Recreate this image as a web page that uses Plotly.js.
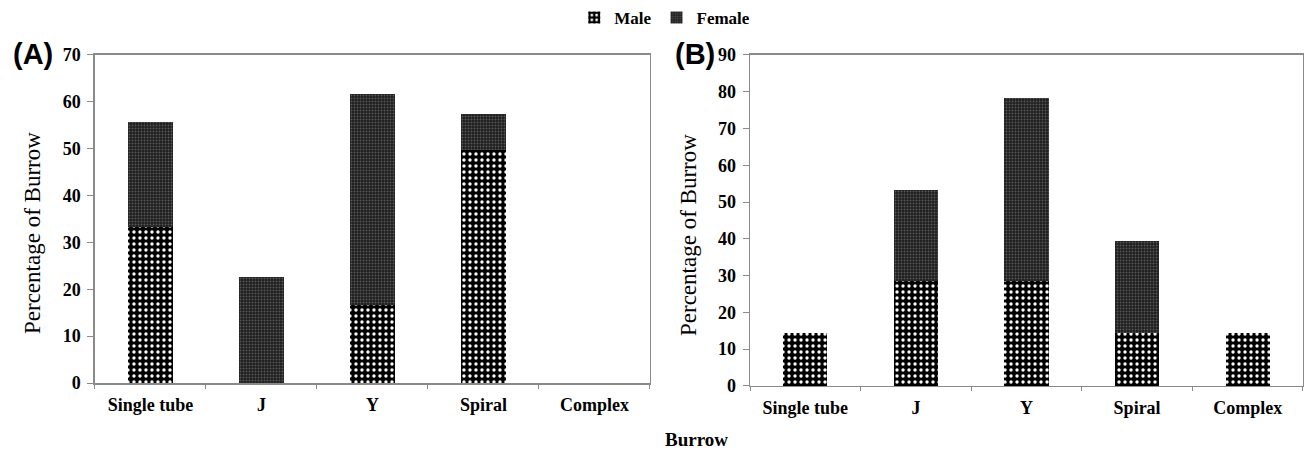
<!DOCTYPE html>
<html>
<head>
<meta charset="utf-8">
<script src="https://cdn.plot.ly/plotly-3.0.1.min.js"></script>
<style>html,body{margin:0;padding:0;background:#fff}#chart{width:1306px;height:453px}</style>
</head>
<body>
<div id="chart"></div>
<script>
// Data
var categories = ["Single tube", "J", "Y", "Spiral", "Complex"];
var maleA   = [33.2, 0, 16.6, 49.8, 0];
var femaleA = [22.5, 22.7, 45.0, 7.7, 0];
var maleB   = [14.3, 28.6, 28.6, 14.3, 14.3];
var femaleB = [0, 24.8, 49.6, 25.1, 0];
var yTicksA = [0, 10, 20, 30, 40, 50, 60, 70];
var yTicksB = [0, 10, 20, 30, 40, 50, 60, 70, 80, 90];

var serif = "Liberation Serif";
var malePattern = {shape: ".", bgcolor: "#000000", fgcolor: "#ffffff", size: 6, solidity: 0.25};
var femalePattern = {shape: ".", bgcolor: "#1e1e1e", fgcolor: "#5a5a5a", size: 3, solidity: 0.3};

var traces = [
  {type: "bar", name: "Male", x: categories, y: maleA, xaxis: "x", yaxis: "y",
   marker: {color: "#000", pattern: malePattern, line: {width: 0}}, width: 0.4, legendgroup: "m"},
  {type: "bar", name: "Female", x: categories, y: femaleA, xaxis: "x", yaxis: "y",
   marker: {color: "#1e1e1e", pattern: femalePattern, line: {width: 0}}, width: 0.4, legendgroup: "f"},
  {type: "bar", name: "Male", x: categories, y: maleB, xaxis: "x2", yaxis: "y2",
   marker: {color: "#000", pattern: malePattern, line: {width: 0}}, width: 0.4, legendgroup: "m", showlegend: false},
  {type: "bar", name: "Female", x: categories, y: femaleB, xaxis: "x2", yaxis: "y2",
   marker: {color: "#1e1e1e", pattern: femalePattern, line: {width: 0}}, width: 0.4, legendgroup: "f", showlegend: false}
];

var boldSerif = {family: serif, size: 18, color: "#000", weight: "bold"};

var xCommon = {
  type: "category", showgrid: false, zeroline: false,
  showline: true, linecolor: "#8a8a8a", linewidth: 1.5, mirror: true,
  ticks: "outside", tickson: "boundaries", ticklen: 4, tickcolor: "#8a8a8a",
  ticklabelstandoff: 5,
  tickfont: boldSerif,
  automargin: false
};
var yCommon = {
  showgrid: false, zeroline: false,
  showline: true, linecolor: "#8a8a8a", linewidth: 1.5, mirror: true,
  ticks: "outside", ticklen: 6, tickcolor: "#8a8a8a",
  ticklabelstandoff: 3,
  tickfont: boldSerif,
  automargin: false
};

var layout = {
  width: 1306, height: 453,
  margin: {l: 0, r: 0, t: 0, b: 0},
  paper_bgcolor: "#fff", plot_bgcolor: "#fff",
  barmode: "stack",
  showlegend: true,
  legend: {orientation: "h", x: 0.509, y: 1.0, xanchor: "center", yanchor: "top",
           font: {family: serif, size: 17, color: "#000", weight: "bold"},
           itemwidth: 30, tracegroupgap: 0},
  xaxis: Object.assign({}, xCommon, {domain: [0.0727, 0.4977], anchor: "y"}),
  yaxis: Object.assign({}, yCommon, {domain: [0.1545, 0.8786], anchor: "x", range: [0, 70],
                                     tickvals: yTicksA}),
  xaxis2: Object.assign({}, xCommon, {domain: [0.5743, 0.9977], anchor: "y2"}),
  yaxis2: Object.assign({}, yCommon, {domain: [0.148, 0.8786], anchor: "x2", range: [0, 90],
                                      tickvals: yTicksB}),
  annotations: [
    {text: "Percentage of Burrow", xref: "paper", yref: "paper", x: 33/1306, y: 1 - 233/453,
     xanchor: "center", yanchor: "middle",
     textangle: -90, showarrow: false, font: {family: serif, size: 23, color: "#000"}},
    {text: "Percentage of Burrow", xref: "paper", yref: "paper", x: 688/1306, y: 1 - 235/453,
     xanchor: "center", yanchor: "middle",
     textangle: -90, showarrow: false, font: {family: serif, size: 23, color: "#000"}},
    {text: "Burrow", xref: "paper", yref: "paper", x: 697/1306, y: 1 - 439/453,
     xanchor: "center", yanchor: "middle",
     showarrow: false, font: {family: serif, size: 19, color: "#000", weight: "bold"}},
    {text: "(A)", xref: "paper", yref: "paper", x: 33/1306, y: 1 - 54/453,
     xanchor: "center", yanchor: "middle",
     showarrow: false, font: {family: "Liberation Sans", size: 29, color: "#000", weight: "bold"}},
    {text: "(B)", xref: "paper", yref: "paper", x: 695/1306, y: 1 - 54/453,
     xanchor: "center", yanchor: "middle",
     showarrow: false, font: {family: "Liberation Sans", size: 29, color: "#000", weight: "bold"}}
  ]
};

Plotly.newPlot("chart", traces, layout, {displayModeBar: false, staticPlot: true});
</script>
</body>
</html>
